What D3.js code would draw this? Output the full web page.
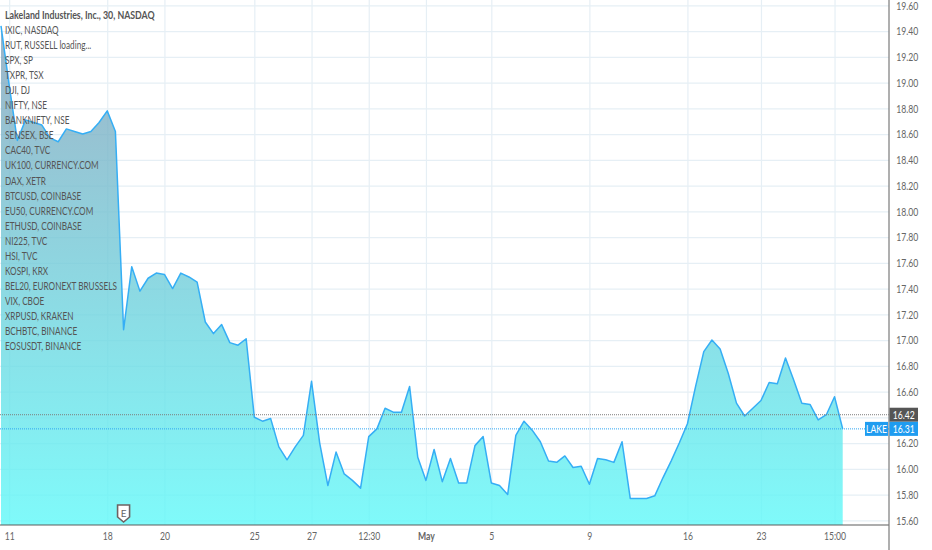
<!DOCTYPE html>
<html><head><meta charset="utf-8">
<script src="https://cdn.jsdelivr.net/npm/d3@7"></script>
<style>
html,body{margin:0;padding:0;background:#fff}
svg{display:block}
text{font-family:Lato,"Open Sans",sans-serif}
</style></head><body><svg id="c" width="932" height="550"></svg>
<script>
const prices=[19.44,18.98,18.55,18.71,18.69,18.67,18.57,18.54,18.64,18.62,18.60,18.62,18.69,18.78,18.62,17.08,17.57,17.38,17.48,17.52,17.51,17.40,17.52,17.49,17.45,17.14,17.05,17.12,16.98,16.96,17.01,16.40,16.37,16.39,16.17,16.07,16.17,16.26,16.68,16.20,15.87,16.13,15.96,15.91,15.85,16.25,16.31,16.47,16.44,16.44,16.64,16.09,15.91,16.15,15.90,16.08,15.89,15.89,16.18,16.25,15.89,15.87,15.80,16.26,16.37,16.30,16.21,16.06,16.05,16.10,16.01,16.02,15.88,16.08,16.07,16.05,16.21,15.77,15.77,15.77,15.79,15.93,16.06,16.20,16.35,16.64,16.91,17.00,16.93,16.74,16.51,16.41,16.47,16.53,16.67,16.66,16.86,16.69,16.51,16.50,16.38,16.42,16.56,16.31];
const timeTickIndex=[1,13,20,31,38,45,52,60,72,84,93,102];
const timeTickLabels=["11","18","20","25","27","12:30","May","5","9","16","23","15:00"];
const priceTicks=[15.6,15.8,16.0,16.2,16.4,16.6,16.8,17.0,17.2,17.4,17.6,17.8,18.0,18.2,18.4,18.6,18.8,19.0,19.2,19.4,19.6];
const hiddenPriceLabels=[16.4];
const legendTitle="Lakeland Industries, Inc., 30, NASDAQ";
const legendItems=["IXIC, NASDAQ","RUT, RUSSELL loading...","SPX, SP","TXPR, TSX","DJI, DJ","NIFTY, NSE","BANKNIFTY, NSE","SENSEX, BSE","CAC40, TVC","UK100, CURRENCY.COM","DAX, XETR","BTCUSD, COINBASE","EU50, CURRENCY.COM","ETHUSD, COINBASE","NI225, TVC","HSI, TVC","KOSPI, KRX","BEL20, EURONEXT BRUSSELS","VIX, CBOE","XRPUSD, KRAKEN","BCHBTC, BINANCE","EOSUSDT, BINANCE"];
const prevClose=16.42, lastPrice=16.31, symbol="LAKE", earningsIndex=15;

const plotR=889, plotB=525, squeeze=.72;
const x=d3.scaleLinear().domain([0,103]).range([1,842.7]);
const y=d3.scaleLinear().domain([15.6,19.6]).range([520.3,5.3]);
const svg=d3.select("#c");
const defs=svg.append("defs");
const g=defs.append("linearGradient").attr("id","fill").attr("gradientUnits","userSpaceOnUse")
  .attr("x1",0).attr("x2",0).attr("y1",y(d3.max(prices))).attr("y2",plotB);
g.append("stop").attr("offset",0).attr("stop-color","#84a1ba");
g.append("stop").attr("offset",1).attr("stop-color","#5ff9f9");

// grid
const gridX=svg.append("g").attr("transform",`translate(0,${plotB})`)
  .call(d3.axisBottom(x).tickValues(timeTickIndex).tickSize(-plotB).tickFormat(""));
gridX.select(".domain").remove();
gridX.selectAll("line").attr("stroke","#e6eff5").attr("stroke-width",1.2);
const gridY=svg.append("g")
  .call(d3.axisRight(y).tickValues(priceTicks).tickSize(plotR).tickFormat(""));
gridY.select(".domain").remove();
gridY.selectAll("line").attr("stroke","#e6eff5").attr("stroke-width",1.2);

// area
svg.append("path").datum(prices).attr("fill","url(#fill)").attr("fill-opacity",.8)
  .attr("d",d3.area().x((d,i)=>x(i)).y0(plotB).y1(d=>y(d)));
svg.append("path").datum(prices).attr("fill","none").attr("stroke","#35aef5").attr("stroke-width",1.5)
  .attr("stroke-linejoin","round")
  .attr("d",d3.line().x((d,i)=>x(i)).y(d=>y(d)));

// price lines
svg.append("line").attr("x1",0).attr("x2",plotR).attr("y1",y(prevClose)).attr("y2",y(prevClose))
  .attr("stroke","#7d7d7d").attr("stroke-width",1).attr("stroke-dasharray","1 1");
svg.append("line").attr("x1",0).attr("x2",plotR).attr("y1",y(lastPrice)).attr("y2",y(lastPrice))
  .attr("stroke","#2ea6f2").attr("stroke-width",1).attr("stroke-dasharray","1 1");

// axes
const axisX=svg.append("g").attr("transform",`translate(0,${plotB})`)
  .call(d3.axisBottom(x).tickValues(timeTickIndex).tickSize(0).tickPadding(6).tickFormat((d,i)=>timeTickLabels[i]));
axisX.select(".domain").remove();
axisX.selectAll("text").attr("font-family","Lato").attr("font-size",12).attr("fill","#666")
  .attr("transform",`scale(${squeeze},1)`)
  .attr("font-weight",(d,i)=>timeTickLabels[i]==="May"?700:400);
const axisY=svg.append("g").attr("transform",`translate(${plotR},0)`)
  .call(d3.axisRight(y).tickValues(priceTicks.filter(t=>!hiddenPriceLabels.includes(t))).tickSize(0).tickPadding(10).tickFormat(d3.format(".2f")));
axisY.select(".domain").remove();
axisY.selectAll("text").attr("font-family","Lato").attr("font-size",12).attr("fill","#666")
  .attr("transform",`scale(${squeeze},1)`);
svg.append("line").attr("x1",0).attr("x2",plotR).attr("y1",plotB).attr("y2",plotB).attr("stroke","#5d5d5d").attr("stroke-width",1.2);
svg.append("line").attr("x1",plotR).attr("x2",plotR).attr("y1",0).attr("y2",550).attr("stroke","#7a7a7a").attr("stroke-width",1.2);

// price labels
function tag(xp,w,yc,fill,label){
  svg.append("rect").attr("x",xp).attr("y",yc-7).attr("width",w).attr("height",14).attr("fill",fill);
  svg.append("text").attr("text-anchor","middle").attr("font-size",12).attr("fill","#fff")
    .attr("transform",`translate(${xp+w/2},${yc+4}) scale(${squeeze},1)`).text(label);
}
tag(plotR+.5,28.5,y(prevClose),"#555555",d3.format(".2f")(prevClose));
tag(plotR+.5,28.5,y(lastPrice),"#1f9cf0",d3.format(".2f")(lastPrice));
tag(865,23,y(lastPrice),"#1f9cf0",symbol);

// earnings marker
const m=svg.append("g").attr("transform",`translate(${x(earningsIndex)},0)`);
m.append("path").attr("d","M-6,505 H6 V517 L0,522 L-6,517 Z").attr("fill","#fff").attr("stroke","#6e6262").attr("stroke-width",1.6);
m.append("text").attr("y",517).attr("text-anchor","middle").attr("font-size",10).attr("fill","#666").text("E");

// legend
svg.append("text").attr("transform","translate(5,19) scale(.735,1)").attr("font-size",12).attr("font-weight",700).attr("fill","#555").text(legendTitle);
svg.selectAll("text.leg").data(legendItems).join("text").attr("class","leg")
  .attr("transform",(d,i)=>`translate(5,${34+i*15.05}) scale(.685,1)`).attr("font-size",12).attr("fill","#555").text(d=>d);
</script></body></html>
